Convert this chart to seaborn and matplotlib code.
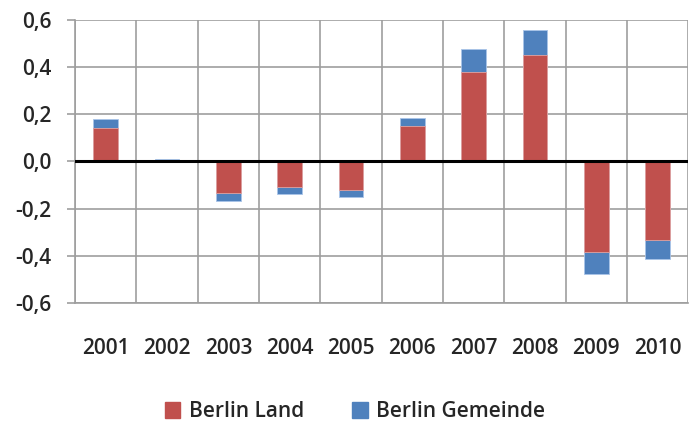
import numpy as np
import pandas as pd
import seaborn as sns
import matplotlib.pyplot as plt
from matplotlib.patches import Patch
from matplotlib.ticker import MultipleLocator, FixedLocator

# Werte
jahre = ['2001', '2002', '2003', '2004', '2005', '2006', '2007', '2008', '2009', '2010']
berlin_land = [0.143, 0.008, -0.134, -0.107, -0.120, 0.150, 0.381, 0.450, -0.386, -0.332]
berlin_gemeinde = [0.036, 0.003, -0.033, -0.030, -0.030, 0.036, 0.094, 0.108, -0.091, -0.080]

df = pd.DataFrame({'Jahr': jahre, 'Land': berlin_land, 'Gemeinde': berlin_gemeinde})
df['Summe'] = df['Land'] + df['Gemeinde']

sns.set_style('white')
plt.rcParams['font.family'] = ['Open Sans', 'DejaVu Sans']

rot = '#C0504D'
blau = '#4F81BD'

fig, ax = plt.subplots(figsize=(6.89, 4.22), dpi=100)
fig.subplots_adjust(left=0.109, right=0.999, top=0.953, bottom=0.282)

# gestapelt: erst Summe (blau), dann Land (rot) darüber
sns.barplot(data=df, x='Jahr', y='Summe', color=blau, width=0.4, saturation=1,
            edgecolor='#A9C4E8', linewidth=0.6, ax=ax, zorder=3)
sns.barplot(data=df, x='Jahr', y='Land', color=rot, width=0.4, saturation=1,
            edgecolor='#E3A3A1', linewidth=0.6, ax=ax, zorder=4)

ax.set_ylim(-0.6, 0.6)
ax.set_xlim(-0.5, 9.5)
ax.yaxis.set_major_locator(MultipleLocator(0.2))
ax.set_yticklabels([f'{v:.1f}'.replace('.', ',').replace('-0,0', '0,0') for v in ax.get_yticks()])
ax.xaxis.set_minor_locator(FixedLocator(np.arange(-0.5, 10, 1)))
ax.grid(axis='y', which='major', color='#9E9E9E', linewidth=1.2, zorder=0)
ax.grid(axis='x', which='minor', color='#9E9E9E', linewidth=1.2, zorder=0)
ax.axhline(0, color='black', linewidth=2.2, zorder=5)

for s in ['top', 'right']:
    ax.spines[s].set_visible(False)
for s in ['left', 'bottom']:
    ax.spines[s].set_color('#9E9E9E')
    ax.spines[s].set_linewidth(1.2)

ax.tick_params(axis='y', which='major', left=True, length=6, width=1.2, color='#9E9E9E',
               labelsize=15, pad=11)
ax.tick_params(axis='x', which='both', bottom=False, labelsize=15, pad=22)
for lab in ax.get_xticklabels() + ax.get_yticklabels():
    lab.set_fontweight('semibold')
ax.set_xlabel('')
ax.set_ylabel('')

handles = [Patch(color=rot, label='Berlin Land'), Patch(color=blau, label='Berlin Gemeinde')]
leg = fig.legend(handles=handles, loc='center', bbox_to_anchor=(0.515, 0.024), ncol=2,
                 frameon=False, fontsize=15, handlelength=0.75, handleheight=0.75,
                 columnspacing=2.3, handletextpad=0.4)
for t in leg.get_texts():
    t.set_fontweight('semibold')

plt.savefig('out.png', dpi=100)
